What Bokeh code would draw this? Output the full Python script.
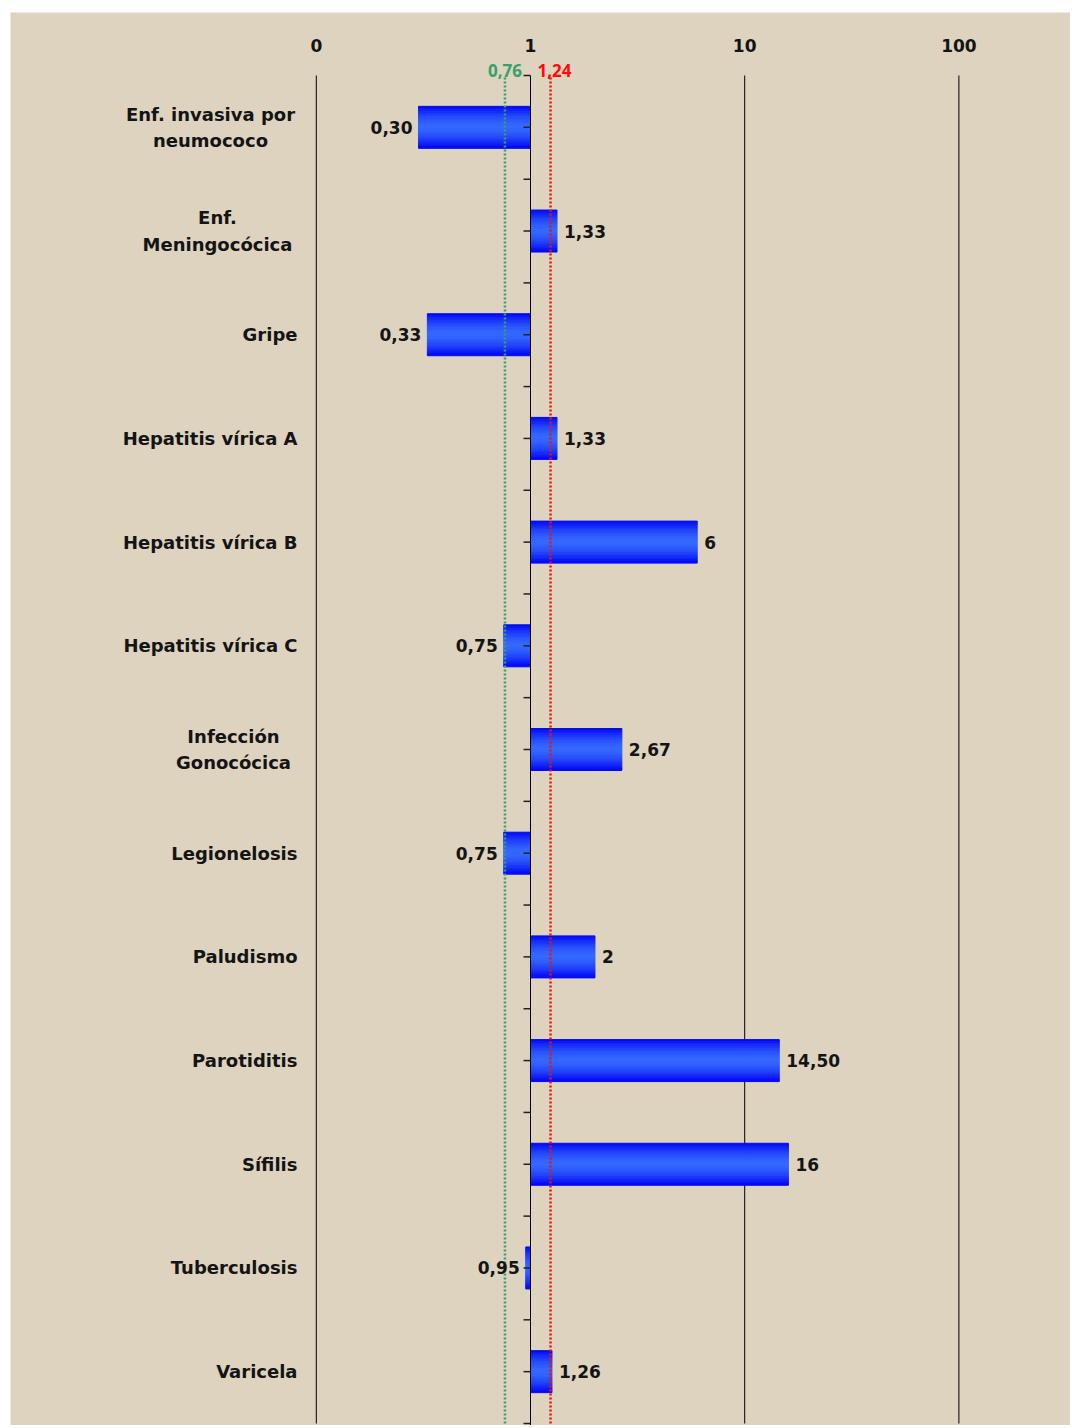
import math
from bokeh.plotting import figure
from bokeh.models import Range1d, ColumnDataSource
from bokeh.embed import file_html
from bokeh.resources import INLINE
from bokeh.core.properties import value

# Disease names, top to bottom
categories = [
    "Enf. invasiva por\nneumococo",
    "Enf.\nMeningocócica",
    "Gripe",
    "Hepatitis vírica A",
    "Hepatitis vírica B",
    "Hepatitis vírica C",
    "Infección\nGonocócica",
    "Legionelosis",
    "Paludismo",
    "Parotiditis",
    "Sífilis",
    "Tuberculosis",
    "Varicela",
]
ratios = [0.30, 1.33, 0.33, 1.33, 6, 0.75, 2.67, 0.75, 2, 14.50, 16, 0.95, 1.26]
ratio_labels = ["0,30", "1,33", "0,33", "1,33", "6", "0,75", "2,67", "0,75", "2",
                "14,50", "16", "0,95", "1,26"]

# Limits of the expected band
lower_limit = 0.76
upper_limit = 1.24
lower_label = "0,76"
upper_label = "1,24"

# Scale ticks and their labels
x_ticks = [0.1, 1, 10, 100]
x_tick_labels = ["0", "1", "10", "100"]
grid_ticks = [0.1, 10, 100]

# ---- layout (canvas pixels) ----
W, H = 1060, 1413
PX_DEC = 214.2          # pixels per decade
PX_ONE = 520.0          # x pixel of the value 1
ROW_TOP, ROW_BOTTOM = 63.0, 1411.0
n = len(categories)
ROW = (ROW_BOTTOM - ROW_TOP) / n


def xdata(px):
    return 10 ** ((px - PX_ONE) / PX_DEC)


def ydata(py):
    return (ROW_BOTTOM - py) / ROW


BG = "#ddd3bf"
FONT = "DejaVu Sans"
TEXT = "#141414"
GREEN = "#3c9e68"
RED = "#ff0a0a"

centers = [n - i - 0.5 for i in range(n)]

p = figure(
    width=W, height=H,
    x_axis_type="log", x_axis_location=None, y_axis_location=None,
    x_range=Range1d(xdata(0), xdata(W)), y_range=Range1d(ydata(H), ydata(0)),
    output_backend="svg", toolbar_location=None,
    min_border=0, min_border_left=0, min_border_right=0,
    min_border_top=0, min_border_bottom=0,
    background_fill_color=BG, border_fill_color=BG,
    outline_line_color=None,
    margin=(12, 2, 3, 10),
)
p.grid.visible = False

# vertical grid lines
p.segment(x0=grid_ticks, y0=[0] * len(grid_ticks), x1=grid_ticks, y1=[n] * len(grid_ticks),
          line_color="#000000", line_width=1)

# scale labels along the top
p.text(x=x_ticks, y=[ydata(33)] * len(x_ticks), text=x_tick_labels,
       text_align="center", text_baseline="middle",
       text_font=value(FONT), text_font_style="bold", text_font_size="17px",
       text_color=TEXT)

# disease names; two-line names are centred line by line
single = [i for i, c in enumerate(categories) if "\n" not in c]
p.text(x=[xdata(287)] * len(single), y=[centers[i] for i in single],
       text=[categories[i] for i in single],
       text_align="right", text_baseline="middle",
       text_font=value(FONT), text_font_style="bold", text_font_size="18px",
       text_color=TEXT)
two_line_centre_px = {0: 200, 1: 207, 6: 223}
multi = [i for i, c in enumerate(categories) if "\n" in c]
p.text(x=[xdata(two_line_centre_px[i]) for i in multi], y=[centers[i] for i in multi],
       text=[categories[i] for i in multi],
       text_align="center", text_baseline="middle", text_line_height=1.25,
       text_font=value(FONT), text_font_style="bold", text_font_size="18px",
       text_color=TEXT)

# bars drawn as thin horizontal bands to give a shaded look
bar_h = 0.405
nb = 24
edge_rgb = (0, 4, 245)
mid_rgb = (52, 104, 255)
lefts = [min(v, 1.0) for v in ratios]
rights = [max(v, 1.0) for v in ratios]
for k in range(nb):
    pos = (k + 0.5) / nb
    t = abs(2 * pos - 1) ** 1.6
    rgb = tuple(int(round(m * (1 - t) + e * t)) for m, e in zip(mid_rgb, edge_rgb))
    col = "#%02x%02x%02x" % rgb
    off = bar_h / 2 - pos * bar_h
    src = ColumnDataSource(dict(y=[c + off for c in centers], left=lefts, right=rights))
    p.hbar(y="y", left="left", right="right", height=bar_h / nb, source=src,
           fill_color=col, line_color=col, line_width=1)

# axis line at 1 with small ticks on its left
p.segment(x0=[1], y0=[ydata(H)], x1=[1], y1=[n], line_color="#000000", line_width=1)
tick_ys = [i * 0.5 for i in range(2 * n + 1)]
p.segment(x0=[xdata(PX_ONE - 7)] * len(tick_ys), y0=tick_ys,
          x1=[1] * len(tick_ys), y1=tick_ys,
          line_color="#222222", line_width=1.5)

# limit lines
p.segment(x0=[lower_limit], y0=[0], x1=[lower_limit], y1=[n],
          line_color=GREEN, line_width=2.5, line_dash="2 2")
p.segment(x0=[upper_limit], y0=[0], x1=[upper_limit], y1=[n],
          line_color=RED, line_width=2.5, line_dash="2 2")

# limit labels just above the rows
p.text(x=[lower_limit], y=[ydata(58)], text=[lower_label], x_offset=0,
       text_align="center", text_baseline="middle",
       text_font=value("Open Sans"), text_font_style="bold", text_font_size="17px",
       text_color=GREEN)
p.text(x=[upper_limit], y=[ydata(58)], text=[upper_label], x_offset=4,
       text_align="center", text_baseline="middle",
       text_font=value("Open Sans"), text_font_style="bold", text_font_size="17px",
       text_color=RED)

# value labels
right_idx = [i for i, v in enumerate(ratios) if v >= 1]
left_idx = [i for i, v in enumerate(ratios) if v < 1]
p.text(x=[ratios[i] for i in right_idx], y=[centers[i] for i in right_idx],
       text=[ratio_labels[i] for i in right_idx], x_offset=7,
       text_align="left", text_baseline="middle",
       text_font=value(FONT), text_font_style="bold", text_font_size="17px",
       text_color=TEXT)
p.text(x=[ratios[i] for i in left_idx], y=[centers[i] for i in left_idx],
       text=[ratio_labels[i] for i in left_idx], x_offset=-6,
       text_align="right", text_baseline="middle",
       text_font=value(FONT), text_font_style="bold", text_font_size="17px",
       text_color=TEXT)

open("out.html", "w").write(file_html(p, INLINE))
